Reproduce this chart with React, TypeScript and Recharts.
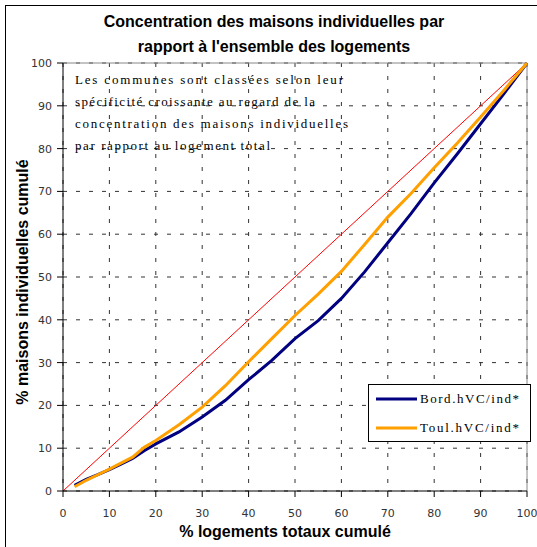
import { LineChart, Line, XAxis, YAxis, CartesianGrid, ReferenceLine } from 'recharts';

// % logements totaux cumulé (x) for the two city curves
const pctLogements = [2.5, 5, 7.5, 10, 12.5, 15, 17.5, 20, 25, 30, 35, 40, 45, 50, 55, 60, 65, 70, 75, 80, 85, 90, 95, 100];
// % maisons individuelles cumulé
const bordeaux = [1.3, 2.7, 3.8, 5.0, 6.3, 7.6, 9.4, 11.0, 13.8, 17.3, 21.2, 26.0, 30.5, 35.6, 39.8, 45.0, 51.2, 58.0, 64.8, 72.0, 78.8, 85.8, 92.8, 100];
const toulouse = [1.0, 2.5, 3.8, 5.1, 6.5, 7.9, 10.2, 11.8, 15.5, 19.6, 24.6, 30.2, 35.6, 41.0, 46.0, 51.3, 57.6, 64.0, 69.5, 75.5, 81.3, 87.4, 93.6, 100];
// equal-distribution line
const diagX = [0, 100];
const diagY = [0, 100];

const ticks = [0, 10, 20, 30, 40, 50, 60, 70, 80, 90, 100];

const seriesNames = ['Bord.hVC/ind*', 'Toul.hVC/ind*'];
const seriesColors = ['#000080', '#ffa000'];

const noteLines = [
  'Les communes sont classées selon leur',
  'spécificité croissante au regard de la',
  'concentration des maisons individuelles',
  'par rapport au logement total',
];
const noteWidths = [268, 240, 273, 195];

const data = pctLogements.map((x, i) => ({ x, bord: bordeaux[i], toul: toulouse[i] }));
const diag = diagX.map((x, i) => ({ x, diag: diagY[i] }));

const tickStyle = { fontFamily: 'DejaVu Sans', fontSize: 11, fill: '#333' };

function LegendBox() {
  return (
    <div style={{ position: 'absolute', left: 368, top: 384, width: 163, height: 58, border: '1px solid #000', background: '#fff', boxSizing: 'border-box' }}>
      <svg width={161} height={56}>
        {seriesNames.map((name, i) => (
          <g key={name}>
            <line x1={7} x2={48} y1={14 + i * 29} y2={14 + i * 29} stroke={seriesColors[i]} strokeWidth={3} />
            <text x={51} y={18 + i * 29} textLength={99} lengthAdjust="spacing"
              style={{ fontFamily: 'Liberation Serif', fontSize: 13, fill: '#000' }}>{name}</text>
          </g>
        ))}
      </svg>
    </div>
  );
}

export default function App() {
  return (
    <div style={{ position: 'absolute', left: 0, top: 0, width: 537, height: 547, overflow: 'hidden', background: '#fff' }}>
      <div style={{ position: 'absolute', left: 5, top: 5, width: 600, height: 600, border: '1px solid #000' }} />
      <div style={{ position: 'absolute', left: 0, top: 9, width: 548, textAlign: 'center', fontFamily: 'Liberation Sans', fontWeight: 'bold', fontSize: 16, lineHeight: '25px', color: '#000' }}>
        Concentration des maisons individuelles par<br />rapport à l'ensemble des logements
      </div>
      <div style={{ position: 'absolute', left: 0, top: 0 }}>
        <LineChart width={537} height={547} data={data} margin={{ top: 63, right: 10, bottom: 26, left: 33 }}>
          <CartesianGrid stroke="#333" strokeDasharray="4 9" />
          <XAxis dataKey="x" type="number" domain={[0, 100]} ticks={ticks} height={30}
            tick={tickStyle} tickSize={6} tickMargin={12} axisLine={{ stroke: '#000' }} tickLine={{ stroke: '#000' }} />
          <YAxis type="number" domain={[0, 100]} ticks={ticks} width={30}
            tick={tickStyle} tickSize={6} tickMargin={5} axisLine={{ stroke: '#000' }} tickLine={{ stroke: '#000' }} />
          <ReferenceLine y={100} stroke="#888" />
          <ReferenceLine x={100} stroke="#888" />
          <Line data={diag} dataKey="diag" stroke="#ff0000" strokeWidth={1} dot={false} isAnimationActive={false} legendType="none" />
          <Line dataKey="bord" name={seriesNames[0]} stroke={seriesColors[0]} strokeWidth={3} dot={false} isAnimationActive={false} />
          <Line dataKey="toul" name={seriesNames[1]} stroke={seriesColors[1]} strokeWidth={3} dot={false} isAnimationActive={false} />
        </LineChart>
      </div>
      <LegendBox />
      <svg style={{ position: 'absolute', left: 0, top: 0 }} width={537} height={547}>
        {noteLines.map((t, i) => (
          <text key={t} x={75} y={84 + i * 22} textLength={noteWidths[i]} lengthAdjust="spacing"
            style={{ fontFamily: 'Liberation Serif', fontSize: 13, fill: '#000' }}>{t}</text>
        ))}
        <text x={285} y={537} textAnchor="middle" style={{ fontFamily: 'Liberation Sans', fontWeight: 'bold', fontSize: 16 }}>
          % logements totaux cumulé
        </text>
        <text x={0} y={0} transform="translate(28 282) rotate(-90)" textAnchor="middle"
          style={{ fontFamily: 'Liberation Sans', fontWeight: 'bold', fontSize: 16 }}>
          % maisons individuelles cumulé
        </text>
      </svg>
    </div>
  );
}
